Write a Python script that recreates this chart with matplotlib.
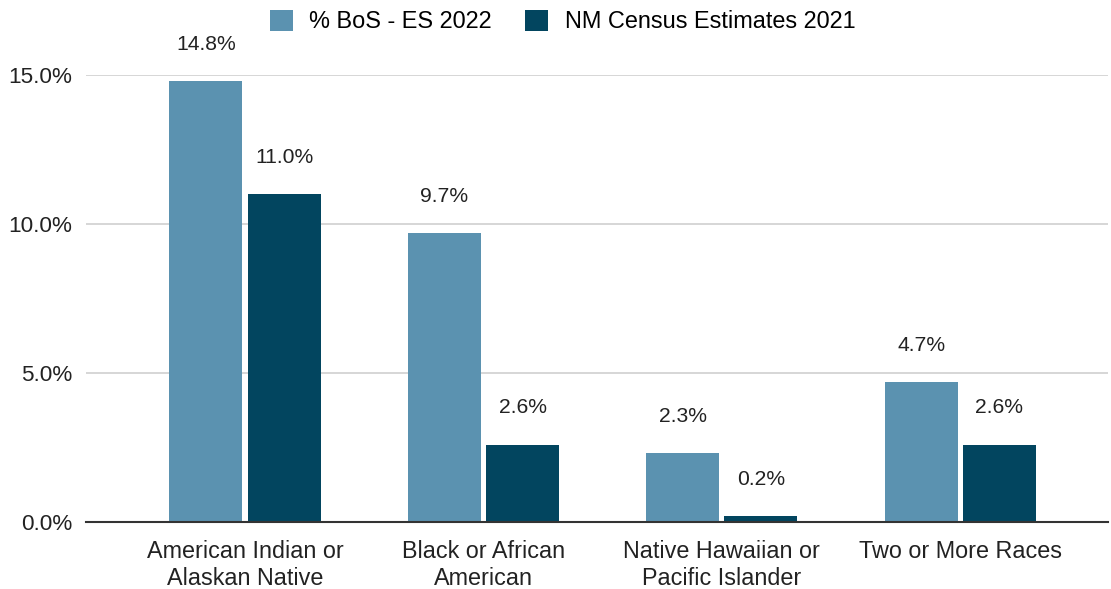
import matplotlib
matplotlib.use("Agg")
import matplotlib.pyplot as plt
import numpy as np
from matplotlib.ticker import FuncFormatter

categories = ["American Indian or\nAlaskan Native", "Black or African\nAmerican",
              "Native Hawaiian or\nPacific Islander", "Two or More Races"]
series_names = ["% BoS - ES 2022", "NM Census Estimates 2021"]
bos = [14.8, 9.7, 2.3, 4.7]
census = [11.0, 2.6, 0.2, 2.6]
colors = ["#5B92B0", "#02455F"]

plt.rcParams['font.family'] = ['Liberation Sans', 'DejaVu Sans']
TXT = "#222222"

fig = plt.figure(figsize=(11.11, 5.89), dpi=100)
ax = fig.add_axes([86/1111, 1-522/589, (1108-86)/1111, (522-75)/589])

x = np.arange(len(categories))
w = 0.306
off = 0.164
b1 = ax.bar(x - off, bos, w, color=colors[0], label=series_names[0], zorder=3)
b2 = ax.bar(x + off, census, w, color=colors[1], label=series_names[1], zorder=3)

for bars, vals in [(b1, bos), (b2, census)]:
    for r, v in zip(bars, vals):
        ax.annotate(f"{v:.1f}%", (r.get_x() + r.get_width()/2, v),
                    xytext=(0, 26.5), textcoords="offset points",
                    ha="center", va="center", fontsize=15.2, color=TXT,
                    annotation_clip=False)

ax.set_xlim(-0.667, 3.62)
ax.set_ylim(0, 15)
ax.set_yticks([0, 5, 10, 15])
ax.yaxis.set_major_formatter(FuncFormatter(lambda v, p: f"{v:.1f}%"))
ax.grid(axis="y", color="#d0d0d0", linewidth=1.2, zorder=0)
ax.set_xticks(x)
ax.set_xticklabels(categories, fontsize=16.8, color=TXT, linespacing=1.24)
ax.tick_params(axis="y", labelsize=16.2, labelcolor=TXT, length=0, pad=10)
ax.tick_params(axis="x", length=0, pad=13)
for s in ["top", "right", "left"]:
    ax.spines[s].set_visible(False)
ax.spines["bottom"].set_color("#333333")
ax.spines["bottom"].set_linewidth(1.5)
ax.spines["bottom"].set_zorder(4)

fig.legend(handles=[b1, b2], labels=series_names, loc="center", bbox_to_anchor=(562.5/1111, 1-21.5/589),
           ncol=2, frameon=False, handlelength=0.98, handleheight=1.0,
           columnspacing=1.4, handletextpad=0.72, prop={'size': 16.9})

fig.savefig("out.png", dpi=100)
